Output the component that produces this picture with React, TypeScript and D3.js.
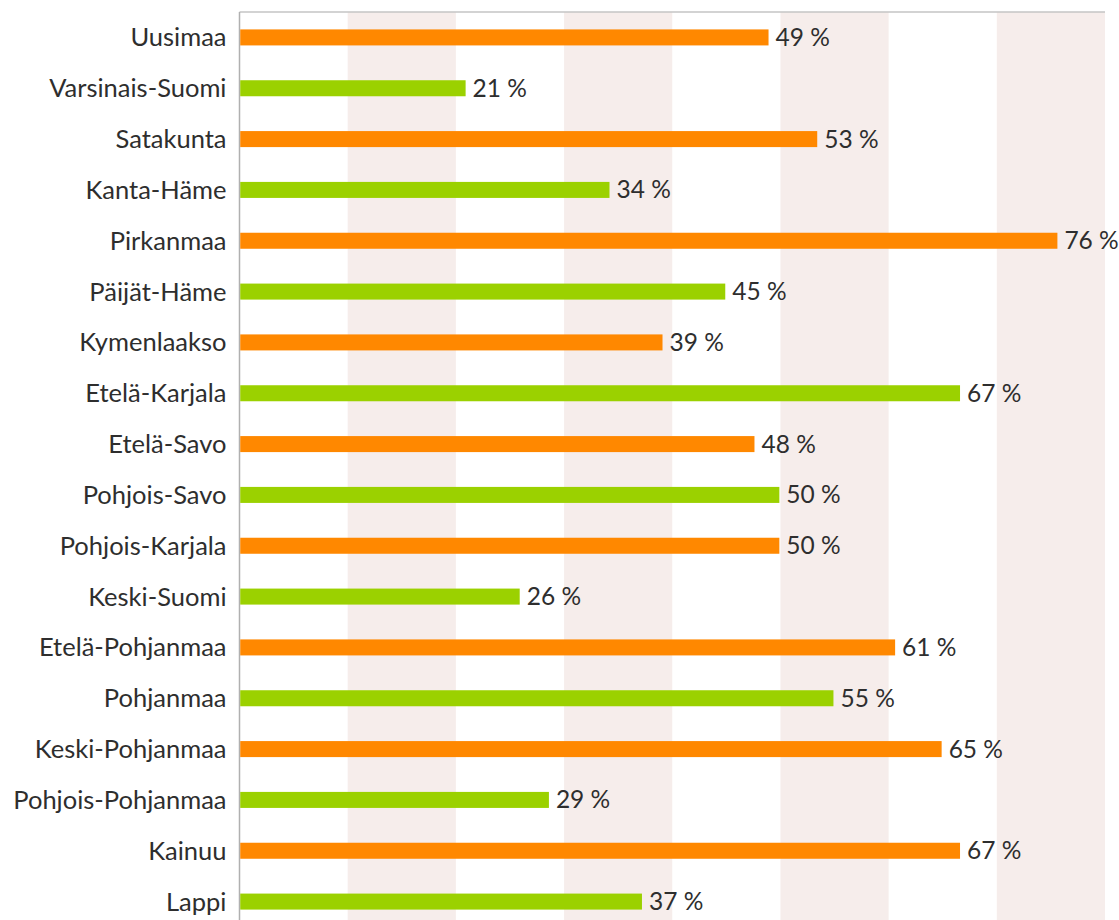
import React from "react";
import * as d3 from "d3";

const regions = [
  "Uusimaa",
  "Varsinais-Suomi",
  "Satakunta",
  "Kanta-Häme",
  "Pirkanmaa",
  "Päijät-Häme",
  "Kymenlaakso",
  "Etelä-Karjala",
  "Etelä-Savo",
  "Pohjois-Savo",
  "Pohjois-Karjala",
  "Keski-Suomi",
  "Etelä-Pohjanmaa",
  "Pohjanmaa",
  "Keski-Pohjanmaa",
  "Pohjois-Pohjanmaa",
  "Kainuu",
  "Lappi",
];

// share in percent
const shares = [
  48.9, 20.9, 53.4, 34.2, 75.6, 44.9, 39.1, 66.6, 47.6, 49.9, 49.9, 25.9, 60.6,
  54.9, 64.9, 28.6, 66.6, 37.2,
];

const bandTicks = [0, 10, 20, 30, 40, 50, 60, 70];

const width = 1119;
const height = 920;
const left = 239.5;
const right = 1105;
const top = 12;
const bottom = 927;

const ORANGE = "#FF8800";
const GREEN = "#9BD100";
const PINK = "#F6EDEB";
const FONT = "'Source Sans Pro', Lato, sans-serif";

export default function App() {
  const x = d3.scaleLinear().domain([0, 80]).range([left, right]);
  const y = d3
    .scaleBand<string>()
    .domain(regions)
    .range([top, bottom])
    .paddingInner(0.685)
    .paddingOuter(0.3425);

  return (
    <svg
      width={width}
      height={height}
      style={{ position: "absolute", left: 0, top: 0, display: "block" }}
      fontFamily={FONT}
    >
      {/* alternating background bands */}
      {bandTicks.map((t, i) =>
        i % 2 === 1 ? (
          <rect
            key={t}
            x={x(t)}
            y={top}
            width={x(t + 10) - x(t)}
            height={height - top}
            fill={PINK}
          />
        ) : null
      )}
      <line x1={left} x2={right} y1={top} y2={top} stroke="#c4c4c4" strokeWidth={1.5} />
      <line x1={left} x2={left} y1={top} y2={height} stroke="#b0b0b0" strokeWidth={1.5} />

      {regions.map((r, i) => {
        const yy = y(r)!;
        const bh = y.bandwidth();
        const cy = yy + bh / 2;
        return (
          <g key={r}>
            <rect
              x={x(0) + 0.75}
              y={yy}
              width={x(shares[i]) - x(0) - 0.75}
              height={bh}
              fill={i % 2 === 0 ? ORANGE : GREEN}
            />
            <text
              x={left - 13}
              y={cy}
              dy="0.35em"
              textAnchor="end"
              fontSize={25.5}
              fill="#2e2e2e"
            >
              {r}
            </text>
            <text
              x={x(shares[i]) + 7}
              y={cy}
              dy="0.35em"
              fontSize={24.5}
              fill="#2e2e2e"
            >
              {Math.round(shares[i])} %
            </text>
          </g>
        );
      })}
    </svg>
  );
}
